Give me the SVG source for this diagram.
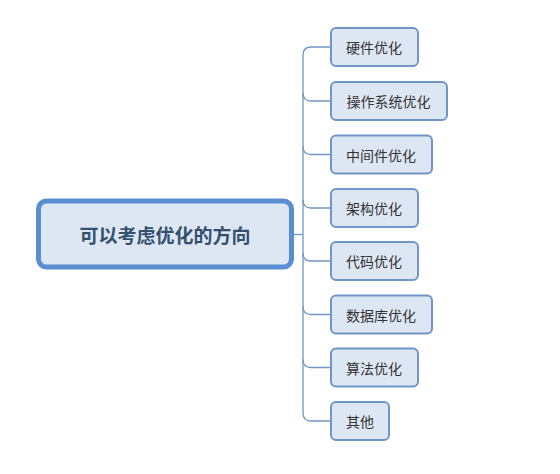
<svg xmlns="http://www.w3.org/2000/svg" width="560" height="474" viewBox="0 0 560 474">
<style>
.conn{fill:none;stroke:#6f96c6;stroke-width:1.3}
.box{fill:#dde6f3;stroke:#6f96c6;stroke-width:2}
.root{fill:#dde6f3;stroke:#5b8dd2;stroke-width:5}
.t{font-family:"Noto Sans CJK SC","Noto Sans",sans-serif;font-size:14px;fill:#333;text-anchor:middle;dominant-baseline:central}
.rt{font-family:"Noto Sans CJK SC","Noto Sans",sans-serif;font-size:19px;font-weight:bold;fill:#34506f;text-anchor:middle;dominant-baseline:central}
</style>
<rect width="560" height="474" fill="#fff"/>
<g id="connectors">
<path class="conn" d="M293,234.5H303"/>
<path class="conn" d="M330,47H311Q303,47 303,55V413Q303,421 311,421H330"/>
<path class="conn" d="M303,93Q303,101 311,101H330"/>
<path class="conn" d="M303,146.5Q303,154.5 311,154.5H330"/>
<path class="conn" d="M303,200Q303,208 311,208H330"/>
<path class="conn" d="M303,253Q303,261 311,261H330"/>
<path class="conn" d="M303,306.5Q303,314.5 311,314.5H330"/>
<path class="conn" d="M303,359.5Q303,367.5 311,367.5H330"/>
</g>
<g id="root"><rect class="root" x="38.5" y="201" width="253" height="66" rx="8"/><text class="rt" x="165" y="234">可以考虑优化的方向</text></g>
<g id="n1"><rect class="box" x="331" y="28" width="87" height="38" rx="5"/><text class="t" x="374" y="47">硬件优化</text></g>
<g id="n2"><rect class="box" x="331" y="82" width="116" height="38" rx="5"/><text class="t" x="388.5" y="101">操作系统优化</text></g>
<g id="n3"><rect class="box" x="331" y="135.5" width="101" height="38" rx="5"/><text class="t" x="381" y="154.5">中间件优化</text></g>
<g id="n4"><rect class="box" x="331" y="189" width="87" height="38" rx="5"/><text class="t" x="374" y="208">架构优化</text></g>
<g id="n5"><rect class="box" x="331" y="242" width="87" height="38" rx="5"/><text class="t" x="374" y="261">代码优化</text></g>
<g id="n6"><rect class="box" x="331" y="295.5" width="101" height="38" rx="5"/><text class="t" x="381" y="314.5">数据库优化</text></g>
<g id="n7"><rect class="box" x="331" y="348.5" width="87" height="38" rx="5"/><text class="t" x="374" y="367.5">算法优化</text></g>
<g id="n8"><rect class="box" x="331" y="402" width="58" height="38" rx="5"/><text class="t" x="360" y="421">其他</text></g>
</svg>
